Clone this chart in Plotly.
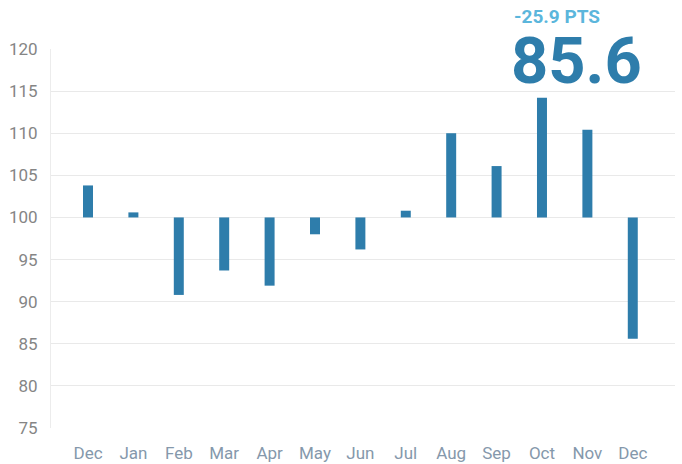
import plotly.graph_objects as go

months = ["Dec", "Jan", "Feb", "Mar", "Apr", "May", "Jun", "Jul", "Aug", "Sep", "Oct", "Nov", "Dec"]
values = [103.8, 100.6, 90.8, 93.7, 91.9, 98.0, 96.2, 100.8, 110.0, 106.1, 114.2, 110.4, 85.6]
baseline = 100
y_ticks = [75, 80, 85, 90, 95, 100, 105, 110, 115, 120]
change_label = "-25.9 PTS"
latest_label = "85.6"

x_idx = list(range(len(months)))
deltas = [v - baseline for v in values]

fig = go.Figure(go.Bar(
    x=x_idx, y=deltas, base=baseline,
    width=0.22,
    marker=dict(color="#2e7dab", line=dict(width=0)),
    hoverinfo="skip",
))

font_family = "Roboto, 'DejaVu Sans', sans-serif"

fig.update_layout(
    width=682, height=464,
    margin=dict(l=51, r=7, t=49, b=36),
    paper_bgcolor="white", plot_bgcolor="white",
    showlegend=False,
    font=dict(family=font_family),
    xaxis=dict(
        tickmode="array", tickvals=x_idx, ticktext=months,
        range=[-0.815, 12.93],
        showgrid=False, zeroline=False, showline=False,
        ticks="", ticklen=0, automargin=False,
        ticklabelstandoff=13,
        tickfont=dict(size=17, color="#8598ab", family=font_family),
    ),
    yaxis=dict(
        range=[75, 120],
        tickmode="array", tickvals=y_ticks,
        showgrid=True, gridcolor="#e9e9e9", gridwidth=1,
        zeroline=False,
        showline=True, linecolor="#ececec", linewidth=1,
        ticks="", ticklen=0, automargin=False,
        ticklabelstandoff=9,
        tickfont=dict(size=17, color="#858585", family=font_family),
    ),
    annotations=[
        dict(text="<b>" + change_label + "</b>", xref="paper", yref="paper",
             x=(512 - 51) / 624, y=(428 - 17) / 379,
             xanchor="left", yanchor="middle", showarrow=False,
             font=dict(size=19, color="#5bb6dc", family=font_family)),
        dict(text="<b>" + latest_label + "</b>", xref="paper", yref="paper",
             x=(509 - 51) / 624, y=(428 - 61) / 379,
             xanchor="left", yanchor="middle", showarrow=False,
             font=dict(size=65, color="#2e7dab", family=font_family)),
    ],
)

fig.write_html("out.html", config={"displayModeBar": False},
               post_script="document.body.style.margin='0px';")
